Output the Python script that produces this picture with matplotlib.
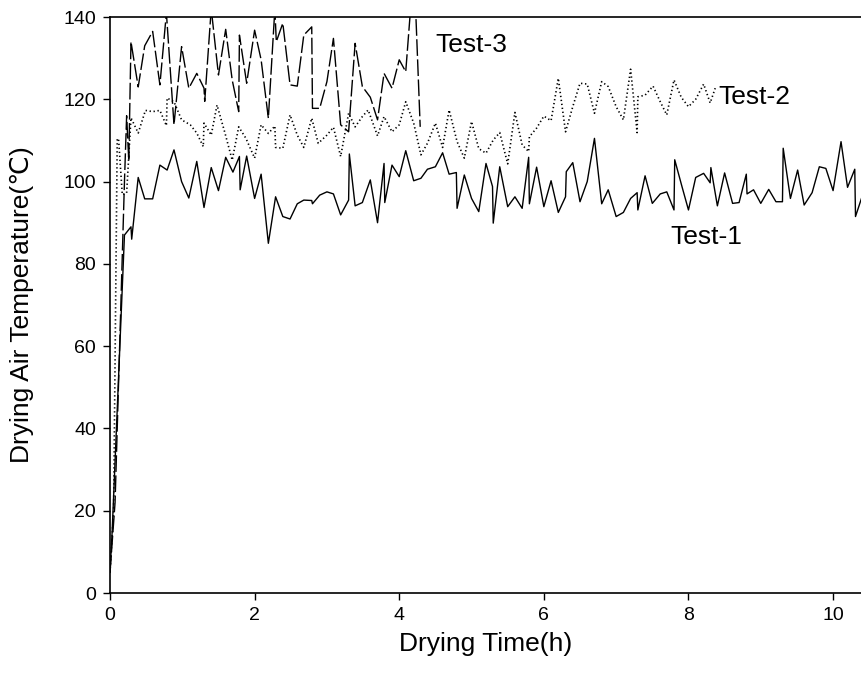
import matplotlib
matplotlib.use("Agg")
import matplotlib.pyplot as plt

plt.rcParams['font.family'] = ['Liberation Sans', 'DejaVu Sans']

# Test-1 (solid)
t1_x = [0, 0.03, 0.2, 0.29, 0.30, 0.39, 0.48, 0.59, 0.69, 0.79, 0.885, 0.99, 1.09, 1.20, 1.30,
        1.40, 1.50, 1.60, 1.70, 1.79, 1.80, 1.89, 2.00, 2.09, 2.19, 2.29, 2.39, 2.49, 2.59, 2.68,
        2.79, 2.80, 2.90, 3.00, 3.09, 3.19, 3.30, 3.31, 3.39, 3.49, 3.60, 3.70, 3.79, 3.80, 3.90,
        4.00, 4.09, 4.20, 4.30, 4.39, 4.50, 4.60, 4.69, 4.79, 4.80, 4.90, 5.00, 5.10, 5.20, 5.29,
        5.30, 5.39, 5.50, 5.60, 5.70, 5.79, 5.80, 5.90, 6.00, 6.10, 6.20, 6.30, 6.31, 6.40, 6.50,
        6.60, 6.70, 6.80, 6.89, 7.00, 7.10, 7.20, 7.29, 7.30, 7.40, 7.50, 7.61, 7.70, 7.80, 7.81,
        7.91, 8.00, 8.10, 8.21, 8.30, 8.31, 8.40, 8.50, 8.61, 8.70, 8.80, 8.81, 8.90, 9.00, 9.11,
        9.21, 9.30, 9.31, 9.41, 9.51, 9.60, 9.71, 9.81, 9.90, 10.00, 10.11, 10.20, 10.30, 10.31, 10.40]
t1_y = [5, 15, 87, 89, 86, 101, 95.8, 95.8, 104, 102.8, 107.7, 100, 96, 104.9, 93.7,
        103.4, 97.8, 105.9, 102.3, 106.1, 98, 106.2, 95.9, 101.8, 85, 96.3, 91.5, 90.9, 94.6, 95.5,
        95.4, 94.6, 96.7, 97.5, 97, 91.9, 95.5, 106.7, 94.1, 94.9, 100.4, 90, 104.4, 94.9, 104,
        101.2, 107.5, 100.2, 100.8, 103, 103.6, 107, 101.8, 102.2, 93.5, 101.6, 95.9, 92.7, 104.4, 98.8,
        89.9, 103.6, 93.9, 96.3, 93.5, 105.9, 94.6, 103.5, 93.9, 100.2, 92.5, 96.3, 102.4, 104.6, 95.1,
        100, 110.5, 94.6, 98, 91.5, 92.5, 95.9, 97.3, 93.1, 101.4, 94.7, 97, 97.5, 93.1, 105.3,
        98.8, 93.1, 101, 102, 99.7, 103.4, 94.1, 102.1, 94.7, 94.9, 101.8, 97, 98, 94.7, 98.1,
        95.1, 95.1, 108.1, 95.9, 102.8, 94.3, 97.3, 103.6, 103.2, 97.8, 109.7, 98.6, 103, 91.5, 96.3]

# Test-2 (dotted)
t2_x = [0, 0.05, 0.1, 0.12, 0.17, 0.23, 0.29, 0.39, 0.49, 0.59, 0.69, 0.78, 0.79, 0.885, 0.99,
        1.11, 1.20, 1.29, 1.30, 1.40, 1.48, 1.59, 1.69, 1.78, 1.88, 2.00, 2.09, 2.19, 2.28, 2.29,
        2.39, 2.49, 2.59, 2.68, 2.79, 2.88, 3.00, 3.09, 3.19, 3.30, 3.39, 3.49, 3.57, 3.70, 3.79,
        3.90, 4.00, 4.09, 4.20, 4.30, 4.39, 4.50, 4.60, 4.69, 4.80, 4.90, 5.00, 5.10, 5.20, 5.30,
        5.39, 5.50, 5.60, 5.70, 5.79, 5.80, 5.90, 6.00, 6.10, 6.20, 6.30, 6.40, 6.50, 6.60, 6.70,
        6.80, 6.89, 7.00, 7.10, 7.20, 7.29, 7.30, 7.40, 7.51, 7.61, 7.70, 7.80, 7.90, 8.00, 8.10,
        8.21, 8.30, 8.37]
t2_y = [5, 20, 110.5, 110, 96.8, 97.2, 115.5, 111.8, 117.3, 117, 117.3, 113.6, 120.3, 119.4, 115,
        113.8, 111.8, 108.5, 114.2, 111.3, 118.6, 111.8, 105.2, 113.3, 110.5, 105.7, 113.8, 111.7, 113.5, 108.3,
        108.1, 116.2, 111.3, 108.3, 115.4, 109.3, 111.3, 113.2, 106.1, 116.6, 113.3, 115.8, 117.4, 111.1, 115.8,
        112.1, 113.8, 119.4, 114.2, 106.5, 109.3, 114.2, 108.3, 117.4, 109.7, 105.7, 114.6, 108, 106.9, 110.1,
        111.9, 104.3, 116.8, 108.9, 107.3, 110.9, 113, 115.9, 114.8, 125.1, 112.1, 118.2, 123.9, 123.7, 116.6,
        124.3, 123.1, 118.2, 115, 127.3, 111.9, 120.6, 121, 123.2, 119.4, 116.2, 124.7, 120.5, 118.2, 120,
        123.7, 119.1, 122.7]

# Test-3 (dashed)
t3_x = [0, 0.07, 0.15, 0.2, 0.23, 0.26, 0.29, 0.39, 0.48, 0.59, 0.69, 0.78, 0.885, 0.99, 1.09,
        1.20, 1.30, 1.31, 1.40, 1.50, 1.60, 1.69, 1.78, 1.79, 1.89, 2.00, 2.09, 2.19, 2.28, 2.30,
        2.39, 2.49, 2.59, 2.68, 2.79, 2.80, 2.90, 3.00, 3.09, 3.19, 3.30, 3.39, 3.49, 3.60, 3.70,
        3.79, 3.90, 4.00, 4.09, 4.17, 4.22, 4.29]
t3_y = [5, 22, 70, 100, 116, 105, 134, 123, 133, 136.5, 123.5, 141, 113.8, 132.8, 122.7,
        126.3, 122.7, 119.5, 142, 125.9, 137, 124.7, 117, 135.6, 123.9, 136.8, 129.6, 115.4, 142, 134,
        138.5, 123.5, 123.2, 135.6, 137.6, 117.8, 117.8, 124.3, 134.8, 113.8, 112.1, 133.6, 123.1, 120.5, 115,
        126.3, 122.7, 129.6, 126.7, 145, 145, 113.3]

labels = ["Test-1", "Test-2", "Test-3"]
label_pos = [(7.75, 86.5), (8.41, 120.5), (4.5, 133.2)]

fig = plt.figure(figsize=(8.62, 6.93), dpi=100)
ax = fig.add_axes([110/862, 100/693, 752/862, 576/693])

ax.plot(t1_x, t1_y, color="black", lw=1.0, linestyle="-")
ax.plot(t2_x, t2_y, color="black", lw=1.2, linestyle=(0, (0.8, 1.6)))
ax.plot(t3_x, t3_y, color="black", lw=1.0, linestyle=(0, (12, 2.5)))

for name, (lx, ly) in zip(labels, label_pos):
    ax.text(lx, ly, name, fontsize=19, va="center", ha="left")

ax.set_xlim(0, 10.4)
ax.set_ylim(0, 140)
ax.set_xticks([0, 2, 4, 6, 8, 10])
ax.set_yticks(range(0, 141, 20))

ax.spines["right"].set_visible(False)
for s in ["left", "bottom", "top"]:
    ax.spines[s].set_linewidth(1.2)

ax.tick_params(direction="out", length=5, width=1, labelsize=14, pad=5)
ax.tick_params(axis="x", top=False)

ax.set_xlabel("Drying Time(h)", fontsize=19, labelpad=6)
ax.set_ylabel("Drying Air Temperature(\u2103)", fontsize=19,
              family=['Liberation Sans', 'DejaVu Sans'])
ax.yaxis.set_label_coords(-0.101, 0.5)

plt.savefig("out.png", dpi=100)
